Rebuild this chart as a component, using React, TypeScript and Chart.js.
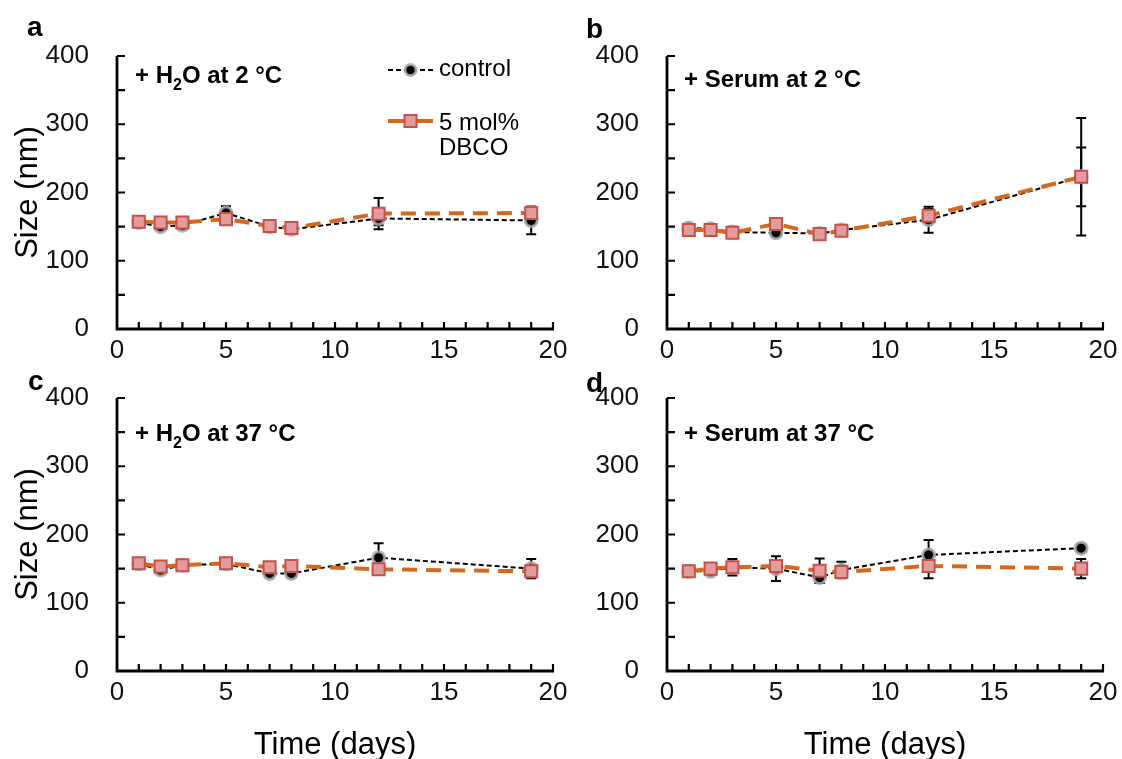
import React, { useEffect, useRef } from 'react';
import { Chart, registerables } from 'chart.js';

Chart.register(...registerables);

// ---------- data ----------
const days = [1, 2, 3, 5, 7, 8, 12, 19];
const xTickValues = [0, 5, 10, 15, 20];
const yTickValues = [0, 100, 200, 300, 400];

const ctrlA = [156, 150, 152, 170, 150, 146, 162, 159];
const ctrlAErr = [3, 4, 4, 10, 4, 4, 10, 20];
const dbcoA = [157, 156, 156, 161, 151, 148, 169, 170];
const dbcoAErr = [3, 3, 3, 5, 3, 3, 23, 9];

const ctrlB = [148, 147, 142, 141, 140, 145, 160, 223];
const ctrlBErr = [4, 3, 8, 5, 4, 3, 19, 86];
const dbcoB = [145, 145, 141, 154, 139, 144, 166, 223];
const dbcoBErr = [3, 3, 3, 4, 3, 3, 10, 43];

const ctrlC = [157, 148, 155, 157, 143, 143, 166, 150];
const ctrlCErr = [3, 3, 3, 3, 3, 5, 21, 14];
const dbcoC = [158, 153, 155, 158, 152, 154, 149, 146];
const dbcoCErr = [3, 3, 3, 3, 3, 3, 3, 4];

const ctrlD = [146, 146, 152, 150, 137, 148, 170, 180];
const ctrlDErr = [3, 4, 12, 18, 8, 12, 22, 5];
const dbcoD = [146, 150, 152, 154, 147, 145, 154, 150];
const dbcoDErr = [2, 3, 3, 8, 18, 5, 18, 14];

const legendLabels = ['control', '5 mol%', 'DBCO'];
const xTitle = 'Time (days)';
const yTitle = 'Size (nm)';

const FONT = '"Liberation Sans", Arial, Helvetica, sans-serif';
const ORANGE = '#D4691E';
const PINK = '#E29C9C';
const RED = '#C5504C';

type Part = { t: string; sub?: boolean };

interface PanelSpec {
  letter: string;
  title: Part[];
  ctrl: number[];
  ctrlErr: number[];
  dbco: number[];
  dbcoErr: number[];
  padding: { left: number; top: number; right: number; bottom: number };
  letterPos: [number, number];
  titlePos: [number, number];
  showYTitle: boolean;
  showXTitle: boolean;
  showLegend: boolean;
}

const panels: PanelSpec[] = [
  {
    letter: 'a',
    title: [{ t: '+ H' }, { t: '2', sub: true }, { t: 'O at 2 °C' }],
    ctrl: ctrlA, ctrlErr: ctrlAErr, dbco: dbcoA, dbcoErr: dbcoAErr,
    padding: { left: 0, top: 56, right: 569, bottom: 380 },
    letterPos: [27, 36], titlePos: [135, 83],
    showYTitle: true, showXTitle: false, showLegend: true,
  },
  {
    letter: 'b',
    title: [{ t: '+ Serum at 2 °C' }],
    ctrl: ctrlB, ctrlErr: ctrlBErr, dbco: dbcoB, dbcoErr: dbcoBErr,
    padding: { left: 550, top: 56, right: 19, bottom: 380 },
    letterPos: [586, 38], titlePos: [684, 87],
    showYTitle: false, showXTitle: false, showLegend: false,
  },
  {
    letter: 'c',
    title: [{ t: '+ H' }, { t: '2', sub: true }, { t: 'O at 37 °C' }],
    ctrl: ctrlC, ctrlErr: ctrlCErr, dbco: dbcoC, dbcoErr: dbcoCErr,
    padding: { left: 0, top: 398, right: 569, bottom: 38 },
    letterPos: [28, 390], titlePos: [135, 441],
    showYTitle: true, showXTitle: true, showLegend: false,
  },
  {
    letter: 'd',
    title: [{ t: '+ Serum at 37 °C' }],
    ctrl: ctrlD, ctrlErr: ctrlDErr, dbco: dbcoD, dbcoErr: dbcoDErr,
    padding: { left: 550, top: 398, right: 19, bottom: 38 },
    letterPos: [586, 392], titlePos: [684, 441],
    showYTitle: false, showXTitle: true, showLegend: false,
  },
];

function drawRich(ctx: CanvasRenderingContext2D, parts: Part[], x: number, y: number, size: number) {
  let cx = x;
  ctx.textAlign = 'left';
  ctx.textBaseline = 'alphabetic';
  for (const p of parts) {
    if (p.sub) {
      ctx.font = `bold ${Math.round(size * 0.68)}px ${FONT}`;
      ctx.fillText(p.t, cx, y + size * 0.28);
    } else {
      ctx.font = `bold ${size}px ${FONT}`;
      ctx.fillText(p.t, cx, y);
    }
    cx += ctx.measureText(p.t).width;
  }
}

const decorPlugin = {
  id: 'decor',
  beforeDatasetsDraw(chart: any) {
    const spec: PanelSpec = chart.options.plugins.decor.spec;
    const ctx: CanvasRenderingContext2D = chart.ctx;
    const xs = chart.scales.x;
    const ys = chart.scales.y;
    const x0 = xs.getPixelForValue(0);
    const x20 = xs.getPixelForValue(20);
    const y0 = ys.getPixelForValue(0);
    const y400 = ys.getPixelForValue(400);
    ctx.save();
    ctx.strokeStyle = '#000';
    ctx.lineWidth = 2.8;
    ctx.lineCap = 'butt';
    ctx.beginPath();
    ctx.moveTo(x0, y400);
    ctx.lineTo(x0, y0);
    ctx.lineTo(x20 + 1, y0);
    ctx.stroke();
    ctx.lineWidth = 2.2;
    ctx.beginPath();
    for (let v = 50; v <= 400; v += 50) {
      const y = ys.getPixelForValue(v);
      ctx.moveTo(x0, y);
      ctx.lineTo(x0 + 8, y);
    }
    for (let d = 1; d <= 20; d++) {
      const x = xs.getPixelForValue(d);
      ctx.moveTo(x, y0);
      ctx.lineTo(x, y0 - 7);
    }
    ctx.stroke();

    // error bars
    ctx.lineWidth = 2;
    const series = [
      { vals: spec.ctrl, errs: spec.ctrlErr },
      { vals: spec.dbco, errs: spec.dbcoErr },
    ];
    for (const s of series) {
      s.vals.forEach((v, i) => {
        const e = s.errs[i];
        const x = xs.getPixelForValue(days[i]);
        const yt = ys.getPixelForValue(v + e);
        const yb = ys.getPixelForValue(v - e);
        ctx.beginPath();
        ctx.moveTo(x, yt);
        ctx.lineTo(x, yb);
        ctx.moveTo(x - 5, yt);
        ctx.lineTo(x + 5, yt);
        ctx.moveTo(x - 5, yb);
        ctx.lineTo(x + 5, yb);
        ctx.stroke();
      });
    }
    ctx.restore();
  },
  afterDraw(chart: any) {
    const spec: PanelSpec = chart.options.plugins.decor.spec;
    const ctx: CanvasRenderingContext2D = chart.ctx;
    const area = chart.chartArea;
    ctx.save();
    ctx.fillStyle = '#000';
    // panel letter
    ctx.font = `bold 28px ${FONT}`;
    ctx.textAlign = 'left';
    ctx.textBaseline = 'alphabetic';
    ctx.fillText(spec.letter, spec.letterPos[0], spec.letterPos[1]);
    // inner title
    drawRich(ctx, spec.title, spec.titlePos[0], spec.titlePos[1], 24);

    if (spec.showYTitle) {
      ctx.save();
      ctx.translate(28, (area.top + area.bottom) / 2);
      ctx.rotate(-Math.PI / 2);
      ctx.font = `31px ${FONT}`;
      ctx.textAlign = 'center';
      ctx.textBaseline = 'middle';
      ctx.fillText(yTitle, 0, 0);
      ctx.restore();
    }
    if (spec.showXTitle) {
      ctx.font = `31px ${FONT}`;
      ctx.textAlign = 'center';
      ctx.textBaseline = 'alphabetic';
      ctx.fillText(xTitle, (area.left + area.right) / 2, 754);
    }
    if (spec.showLegend) {
      // control entry
      ctx.strokeStyle = '#000';
      ctx.lineWidth = 2;
      ctx.setLineDash([5, 3]);
      ctx.beginPath();
      ctx.moveTo(388, 70);
      ctx.lineTo(433, 70);
      ctx.stroke();
      ctx.setLineDash([]);
      ctx.beginPath();
      ctx.arc(410.5, 70, 5.5, 0, Math.PI * 2);
      ctx.fillStyle = '#000';
      ctx.fill();
      ctx.strokeStyle = 'rgba(170,170,170,0.85)';
      ctx.lineWidth = 3;
      ctx.stroke();
      // dbco entry
      ctx.strokeStyle = ORANGE;
      ctx.lineWidth = 4;
      ctx.beginPath();
      ctx.moveTo(388, 121);
      ctx.lineTo(433, 121);
      ctx.stroke();
      ctx.fillStyle = PINK;
      ctx.fillRect(404.5, 115, 12, 12);
      ctx.strokeStyle = RED;
      ctx.lineWidth = 2;
      ctx.strokeRect(404.5, 115, 12, 12);
      ctx.fillStyle = '#000';
      ctx.font = `24px ${FONT}`;
      ctx.textAlign = 'left';
      ctx.textBaseline = 'middle';
      ctx.fillText(legendLabels[0], 439, 69);
      ctx.fillText(legendLabels[1], 439, 123);
      ctx.fillText(legendLabels[2], 439, 148);
    }
    ctx.restore();
  },
};

function Panel({ spec }: { spec: PanelSpec }) {
  const ref = useRef<HTMLCanvasElement | null>(null);
  useEffect(() => {
    if (!ref.current) return;
    const chart = new Chart(ref.current, {
      type: 'line',
      data: {
        datasets: [
          {
            label: 'control',
            data: days.map((d, i) => ({ x: d, y: spec.ctrl[i] })),
            borderColor: '#000',
            borderWidth: 2,
            borderDash: [5, 3],
            pointStyle: 'circle',
            pointRadius: 6,
            pointBackgroundColor: '#000',
            pointBorderColor: 'rgba(170,170,170,0.85)',
            pointBorderWidth: 3,
            tension: 0,
            order: 1,
          } as any,
          {
            label: '5 mol% DBCO',
            data: days.map((d, i) => ({ x: d, y: spec.dbco[i] })),
            borderColor: ORANGE,
            borderWidth: 4,
            borderDash: [15, 9],
            pointStyle: 'rect',
            pointRadius: 8.5,
            pointBackgroundColor: PINK,
            pointBorderColor: RED,
            pointBorderWidth: 2,
            tension: 0,
            order: 0,
          } as any,
        ],
      },
      options: {
        responsive: false,
        animation: false,
        events: [],
        devicePixelRatio: 1,
        layout: { padding: spec.padding },
        scales: {
          x: {
            type: 'linear',
            min: 0,
            max: 20,
            grid: { display: false, drawTicks: false },
            border: { display: false },
            afterBuildTicks: (s: any) => {
              s.ticks = xTickValues.map((v) => ({ value: v }));
            },
            afterFit: (s: any) => {
              s.height = 50;
              s.paddingLeft = 0;
              s.paddingRight = 0;
              s.paddingTop = 0;
              s.paddingBottom = 0;
            },
            ticks: {
              font: { family: FONT, size: 26 },
              color: '#111',
              padding: 6,
              maxRotation: 0,
              autoSkip: false,
            },
          },
          y: {
            type: 'linear',
            min: 0,
            max: 400,
            grid: { display: false, drawTicks: false },
            border: { display: false },
            afterBuildTicks: (s: any) => {
              s.ticks = yTickValues.map((v) => ({ value: v }));
            },
            afterFit: (s: any) => {
              s.width = 117;
              s.paddingLeft = 0;
              s.paddingRight = 0;
              s.paddingTop = 0;
              s.paddingBottom = 0;
            },
            ticks: {
              font: { family: FONT, size: 26 },
              color: '#111',
              padding: 28,
              autoSkip: false,
            },
          },
        },
        plugins: {
          legend: { display: false },
          tooltip: { enabled: false },
          title: { display: false },
          decor: { spec },
        } as any,
      },
      plugins: [decorPlugin],
    });
    return () => chart.destroy();
  }, [spec]);
  return (
    <canvas
      ref={ref}
      width={1122}
      height={759}
      style={{ position: 'absolute', left: 0, top: 0, width: 1122, height: 759 }}
    />
  );
}

export default function App() {
  return (
    <div
      style={{
        position: 'fixed',
        left: 0,
        top: 0,
        width: 1122,
        height: 759,
        background: '#fff',
        overflow: 'hidden',
      }}
    >
      {panels.map((p) => (
        <Panel key={p.letter} spec={p} />
      ))}
    </div>
  );
}
